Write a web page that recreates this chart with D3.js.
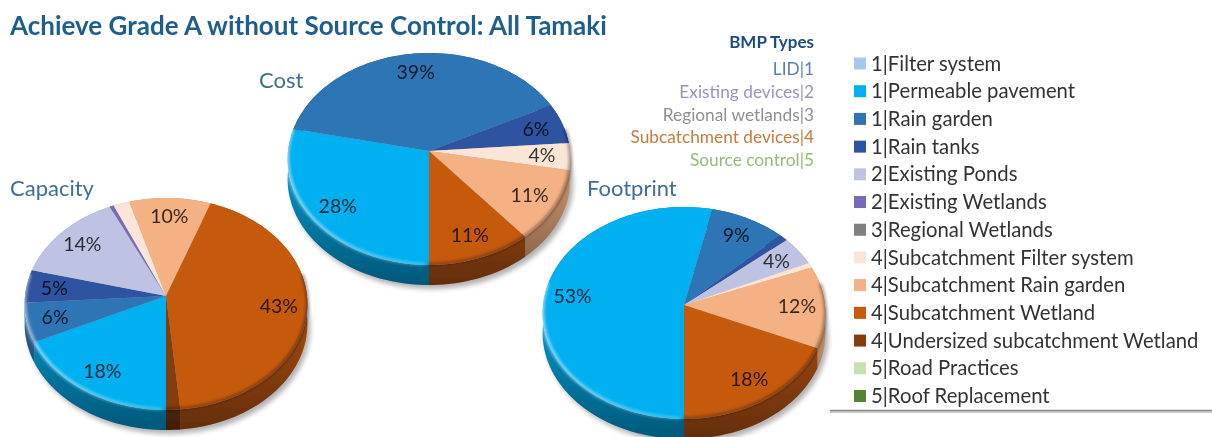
<!DOCTYPE html>
<html>
<head>
<meta charset="utf-8">
<script src="https://cdn.jsdelivr.net/npm/d3@7"></script>
<style>
  html, body { margin: 0; background: #fff; overflow: hidden; }
  text { font-family: Lato, "Open Sans", sans-serif; }
</style>
</head>
<body>
<svg id="chart"></svg>
<script>
const WIDTH = 1212;
const HEIGHT = 437;

const categories = [
    "1|Filter system", "1|Permeable pavement", "1|Rain garden", "1|Rain tanks",
    "2|Existing Ponds", "2|Existing Wetlands", "3|Regional Wetlands",
    "4|Subcatchment Filter system", "4|Subcatchment Rain garden", "4|Subcatchment Wetland",
    "4|Undersized subcatchment Wetland", "5|Road Practices", "5|Roof Replacement"
];
const categoryColors = [
    "#a9c8ec", "#00b0f0", "#2e75b6", "#2f52a0",
    "#bfc3e3", "#7a68b8", "#808080",
    "#fbe5d6", "#f4b183", "#c55a11",
    "#843c0c", "#c5e0b4", "#548235"
];

// percent shares, same order as categories
const capacityValues = [0, 18, 6, 5, 14, 0.5, 0, 2, 10, 43, 1.5, 0, 0];
const costValues = [0, 28.4, 39.2, 6.2, 0, 0, 0, 4.1, 11, 11.1, 0, 0, 0];
const footprintValues = [0, 53.2, 9.2, 1.1, 4.4, 0, 0, 0.8, 12.4, 18.4, 0, 0, 0];

const typeLabels = ["LID|1", "Existing devices|2", "Regional wetlands|3", "Subcatchment devices|4", "Source control|5"];
const typeColors = ["#5b7fb5", "#9a90c8", "#8f8f8f", "#c87a3c", "#92bb78"];

const TITLE = "Achieve Grade A without Source Control: All Tamaki";

const RX = 141;
const FAR = 98;
const NEAR = 114;
const DEPTH = 20;
const LABEL_RADIUS = 0.8;
const persp = (NEAR - FAR) / (NEAR + FAR);
const RY = FAR * (1 + persp);

const pies = [
    { name: "Capacity", values: capacityValues, cx: 166, cy: 296, titleX: 10, titleY: 196 },
    { name: "Cost", values: costValues, cx: 429, cy: 151, titleX: 259, titleY: 88 },
    { name: "Footprint", values: footprintValues, cx: 684, cy: 305, titleX: 587, titleY: 196 }
];

const colorScale = d3.scaleOrdinal().domain(categories).range(categoryColors);
const pieLayout = d3.pie().sort(null).startAngle(Math.PI).endAngle(3 * Math.PI);
const line = d3.line();

const svg = d3.select("#chart").attr("width", WIDTH).attr("height", HEIGHT);
const defs = svg.append("defs");

defs.append("filter").attr("id", "soft").attr("x", "-5%").attr("y", "-5%").attr("width", "110%").attr("height", "110%")
    .append("feGaussianBlur").attr("stdDeviation", 0.45);
defs.append("filter").attr("id", "shadow").attr("x", "-10%").attr("y", "-10%").attr("width", "120%").attr("height", "120%")
    .append("feGaussianBlur").attr("stdDeviation", 2.5);
defs.append("filter").attr("id", "bevel").attr("x", "-10%").attr("y", "-10%").attr("width", "120%").attr("height", "120%")
    .append("feGaussianBlur").attr("stdDeviation", 1.4);

// angle is clockwise from the top of the pie, r is 0-1
function project(p, angle, r) {
    const u = r * Math.sin(angle);
    const v = -r * Math.cos(angle);
    const s = 1 / (1 - persp * v);
    return [p.cx + u * RX * s, p.cy + v * RY * s];
}

function arcPoints(p, a0, a1) {
    const n = Math.max(2, Math.ceil((a1 - a0) / 0.03));
    return d3.range(n + 1).map(i => project(p, a0 + (a1 - a0) * i / n, 1));
}

const root = svg.append("g").attr("filter", "url(#soft)");

root.append("text")
    .attr("x", 10).attr("y", 35)
    .attr("font-size", 26).attr("font-weight", 700).attr("fill", "#1f5f8f")
    .text(TITLE);

pies.forEach((p, pi) => {
    const slices = pieLayout(p.values).map((d, i) => ({ ...d, category: categories[i] })).filter(d => d.value > 0);
    const outline = arcPoints(p, 0, 2 * Math.PI);
    const g = root.append("g");

    // shadow under the pie
    g.append("path")
        .attr("d", line(outline.map(([x, y]) => [x + 3, y + DEPTH + 4])) + "Z")
        .attr("fill", "#000").attr("opacity", 0.3).attr("filter", "url(#shadow)");

    // rim
    g.selectAll(".rim").data(slices).join("path")
        .attr("class", "rim")
        .attr("fill", d => d3.color(colorScale(d.category)).darker(0.6))
        .attr("d", d => {
            const pts = arcPoints(p, d.startAngle, d.endAngle);
            const low = pts.map(([x, y]) => [x, y + DEPTH]).reverse();
            return line(pts.concat(low)) + "Z";
        });

    const rimGrad = defs.append("linearGradient").attr("id", `rimGrad${pi}`)
        .attr("gradientUnits", "userSpaceOnUse")
        .attr("x1", 0).attr("x2", 0).attr("y1", p.cy + 30).attr("y2", p.cy + NEAR + DEPTH);
    rimGrad.append("stop").attr("offset", 0).attr("stop-color", "#000").attr("stop-opacity", 0);
    rimGrad.append("stop").attr("offset", 1).attr("stop-color", "#000").attr("stop-opacity", 0.38);
    g.append("path")
        .attr("d", line(outline.concat(outline.map(([x, y]) => [x, y + DEPTH]).reverse())) + "Z")
        .attr("fill", `url(#rimGrad${pi})`);

    // top surface
    g.selectAll(".slice").data(slices).join("path")
        .attr("class", "slice")
        .attr("fill", d => colorScale(d.category))
        .attr("d", d => line([[p.cx, p.cy]].concat(arcPoints(p, d.startAngle, d.endAngle))) + "Z");

    // bevel along the near edge: light on the left, dark on the right
    const bevelGrad = defs.append("linearGradient").attr("id", `bevelGrad${pi}`)
        .attr("gradientUnits", "userSpaceOnUse")
        .attr("x1", p.cx - RX).attr("x2", p.cx + RX).attr("y1", 0).attr("y2", 0);
    bevelGrad.append("stop").attr("offset", 0).attr("stop-color", "#fff").attr("stop-opacity", 0.6);
    bevelGrad.append("stop").attr("offset", 0.48).attr("stop-color", "#fff").attr("stop-opacity", 0.25);
    bevelGrad.append("stop").attr("offset", 0.5).attr("stop-color", "#000").attr("stop-opacity", 0.3);
    bevelGrad.append("stop").attr("offset", 1).attr("stop-color", "#000").attr("stop-opacity", 0.4);
    g.append("path")
        .attr("d", line(arcPoints(p, Math.PI / 2 - 0.2, 3 * Math.PI / 2 + 0.2).map(([x, y]) => [x, y - 1])))
        .attr("fill", "none").attr("stroke", `url(#bevelGrad${pi})`).attr("stroke-width", 3)
        .attr("filter", "url(#bevel)");

    // percent labels, small slivers stay unlabelled
    g.selectAll(".pct").data(slices.filter(d => d.value >= 3)).join("text")
        .attr("class", "pct")
        .attr("text-anchor", "middle").attr("dy", "0.35em")
        .attr("font-size", 19.5).attr("fill", "#000").attr("fill-opacity", 0.78)
        .attr("x", d => project(p, (d.startAngle + d.endAngle) / 2, LABEL_RADIUS)[0])
        .attr("y", d => project(p, (d.startAngle + d.endAngle) / 2, LABEL_RADIUS)[1])
        .text(d => `${Math.round(d.value)}%`);

    root.append("text")
        .attr("x", p.titleX).attr("y", p.titleY)
        .attr("font-size", 22).attr("fill", "#3f6d9b")
        .text(p.name);
});

// BMP types list
const typeY = d3.scalePoint().domain(typeLabels).range([69, 160]);
root.append("text")
    .attr("x", 814).attr("y", 48).attr("text-anchor", "end")
    .attr("font-size", 17).attr("font-weight", 700).attr("fill", "#1f4e85")
    .text("BMP Types");
root.selectAll(".type").data(typeLabels).join("text")
    .attr("class", "type")
    .attr("x", 814).attr("y", d => typeY(d)).attr("dy", "0.35em")
    .attr("text-anchor", "end").attr("font-size", 17.3)
    .attr("fill", (d, i) => typeColors[i])
    .text(d => d);

// legend
const legendY = d3.scalePoint().domain(categories).range([63.5, 396]);
const legend = root.selectAll(".legend").data(categories).join("g")
    .attr("class", "legend")
    .attr("transform", d => `translate(0, ${legendY(d)})`);
legend.append("rect")
    .attr("x", 854).attr("y", -6).attr("width", 12).attr("height", 12)
    .attr("fill", d => colorScale(d));
legend.append("text")
    .attr("x", 871).attr("dy", "0.35em")
    .attr("font-size", 20.3).attr("fill", "#333")
    .text(d => d);

root.append("line")
    .attr("x1", 830).attr("x2", WIDTH).attr("y1", 412).attr("y2", 412)
    .attr("stroke", "#ccc").attr("stroke-width", 2);
root.append("line")
    .attr("x1", 830).attr("x2", WIDTH).attr("y1", 410.5).attr("y2", 410.5)
    .attr("stroke", "#888").attr("stroke-width", 1.5);
</script>
</body>
</html>
